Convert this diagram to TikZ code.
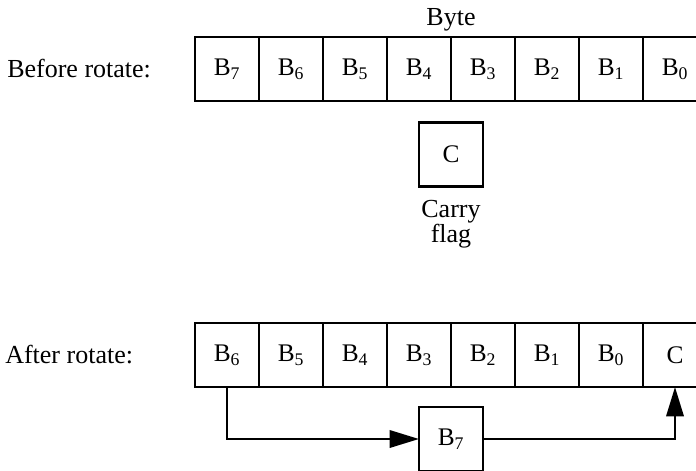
\documentclass[tikz,border=0pt]{standalone}
\usepackage{fontspec}
\setmainfont{Liberation Serif}
\usetikzlibrary{arrows.meta,positioning}

\begin{document}
\begin{tikzpicture}[
  x=0.75pt, y=-0.75pt,
  bit/.style={draw, line width=1.8pt, minimum size=48pt, inner sep=0pt, outer sep=0pt, font=\fontsize{19}{20}\selectfont},
  lbl/.style={inner sep=0pt, font=\fontsize{19.5}{17.5}\selectfont},
  flow/.style={line width=1.8pt, -{Triangle[length=22pt,width=13pt]}},
  node distance=0pt
]
\useasboundingbox (0,0) rectangle (696,471);
\clip (0,0) rectangle (696,471);
% before rotate
\node[bit] (t7) at (227,69) {B\textsubscript{7}};
\node[bit, right=of t7] (t6) {B\textsubscript{6}};
\node[bit, right=of t6] (t5) {B\textsubscript{5}};
\node[bit, right=of t5] (t4) {B\textsubscript{4}};
\node[bit, right=of t4] (t3) {B\textsubscript{3}};
\node[bit, right=of t3] (t2) {B\textsubscript{2}};
\node[bit, right=of t2] (t1) {B\textsubscript{1}};
\node[bit, right=of t1] (t0) {B\textsubscript{0}};
\node[lbl, anchor=west] (before) at (7,69) {Before rotate:};
\node[lbl, anchor=base] (byte) at (451,25) {Byte};
\node[bit, below=16pt of t4.south east] (carry) {C};
\node[lbl, align=center, below=10pt of carry] (flag) {Carry\\flag};
% after rotate
\node[bit] (a6) at (227,355) {B\textsubscript{6}};
\node[bit, right=of a6] (a5) {B\textsubscript{5}};
\node[bit, right=of a5] (a4) {B\textsubscript{4}};
\node[bit, right=of a4] (a3) {B\textsubscript{3}};
\node[bit, right=of a3] (a2) {B\textsubscript{2}};
\node[bit, right=of a2] (a1) {B\textsubscript{1}};
\node[bit, right=of a1] (a0) {B\textsubscript{0}};
\node[bit, right=of a0] (ac) {C};
\node[lbl, anchor=west] (after) at (5,355) {After rotate:};
\node[bit, below=15pt of a3.south east] (b7) {B\textsubscript{7}};
\draw[flow] (a6.south) |- (b7.west);
\draw[flow] (b7.east) -| (ac.south);
\end{tikzpicture}
\end{document}
